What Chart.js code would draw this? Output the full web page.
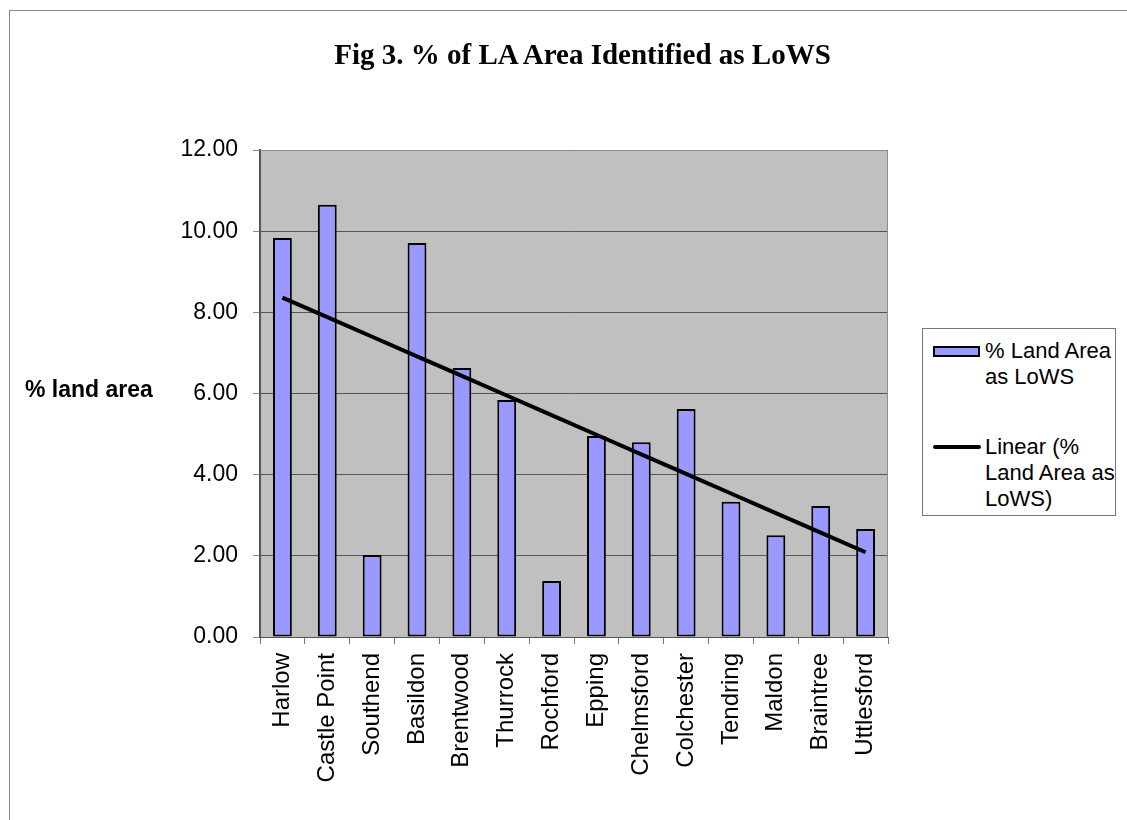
<!DOCTYPE html>
<html>
<head>
<meta charset="utf-8">
<script src="https://cdn.jsdelivr.net/npm/chart.js@4"></script>
<style>
  html, body { margin: 0; padding: 0; background: #fff; }
  body { width: 1127px; height: 820px; position: relative; overflow: hidden; font-family: "Liberation Sans", Arial, sans-serif; }
  #frame { position: absolute; left: 9px; top: 10px; width: 1300px; height: 1000px; border: 1px solid #888; }
  #chart { position: absolute; left: 0; top: 0; }
  #title { position: absolute; left: 0; width: 1165px; top: 38px; text-align: center; font-family: "Liberation Serif", "Times New Roman", serif; font-weight: bold; font-size: 29px; }
  #ylabel { position: absolute; left: 25px; top: 376px; font-weight: bold; font-size: 23px; }
  #legend { position: absolute; left: 922px; top: 328px; width: 194px; height: 188px; border: 1px solid #777; background: #fff; box-sizing: border-box; }
  .item { position: absolute; left: 10px; font-size: 22px; line-height: 26px; }
  .item .txt { position: absolute; left: 52px; top: 0; white-space: nowrap; }
  .swatch { position: absolute; left: 0; }
</style>
</head>
<body>
<div id="frame"></div>
<canvas id="chart" width="1127" height="820"></canvas>
<div id="title">Fig 3. % of LA Area Identified as LoWS</div>
<div id="ylabel">% land area</div>
<div id="legend"></div>
<script>
// valores
const districts = ['Harlow', 'Castle Point', 'Southend', 'Basildon', 'Brentwood', 'Thurrock', 'Rochford',
                   'Epping', 'Chelmsford', 'Colchester', 'Tendring', 'Maldon', 'Braintree', 'Uttlesford'];
const landArea = [9.83, 10.65, 2.02, 9.71, 6.63, 5.84, 1.38, 4.95, 4.80, 5.62, 3.33, 2.51, 3.23, 2.66];
const yTicks = [0, 2, 4, 6, 8, 10, 12];
const seriesNames = ['% Land Area as LoWS', 'Linear (% Land Area as LoWS)'];
const legendLines = [['% Land Area', 'as LoWS'], ['Linear (%', 'Land Area as', 'LoWS)']];

// linha de tendência (mínimos quadrados sobre os dados)
function linearTrend(values) {
    const n = values.length;
    const mx = (n - 1) / 2;
    const my = values.reduce((a, b) => a + b, 0) / n;
    let sxy = 0, sxx = 0;
    values.forEach((v, i) => { sxy += (i - mx) * (v - my); sxx += (i - mx) * (i - mx); });
    const slope = sxy / sxx;
    return values.map((v, i) => my + slope * (i - mx));
}

const plotBg = {
    id: 'plotBg',
    beforeDraw(chart) {
        const a = chart.chartArea, c = chart.ctx;
        c.save();
        c.fillStyle = '#c0c0c0';
        c.fillRect(a.left, a.top, a.right - a.left, a.bottom - a.top);
        c.restore();
    },
    afterDraw(chart) {
        const a = chart.chartArea, c = chart.ctx;
        c.save();
        c.strokeStyle = '#8c8c8c';
        c.lineWidth = 1;
        c.beginPath();
        c.moveTo(a.left, a.top + 0.5);
        c.lineTo(a.right - 0.5, a.top + 0.5);
        c.lineTo(a.right - 0.5, a.bottom);
        c.stroke();
        c.restore();
    }
};

const tickFont = { family: '"Liberation Sans", Arial, sans-serif', size: 23 };

new Chart(document.getElementById('chart'), {
    type: 'bar',
    data: {
        labels: districts,
        datasets: [
            {
                type: 'line',
                label: seriesNames[1],
                data: linearTrend(landArea),
                borderColor: '#000',
                borderWidth: 4,
                pointRadius: 0,
                fill: false,
                tension: 0,
                order: 0
            },
            {
                type: 'bar',
                label: seriesNames[0],
                data: landArea,
                backgroundColor: '#9999ff',
                borderColor: '#000',
                borderWidth: 2,
                borderSkipped: false,
                categoryPercentage: 1,
                barPercentage: 0.42,
                order: 1
            }
        ]
    },
    options: {
        responsive: false,
        animation: false,
        layout: { padding: { left: 180, top: 150, right: 239, bottom: 0 } },
        plugins: { legend: { display: false }, tooltip: { enabled: false } },
        scales: {
            x: {
                afterFit: s => { s.height = 183; },
                grid: { drawOnChartArea: false, tickLength: 7, color: '#777', offset: true },
                border: { color: '#555', width: 1 },
                ticks: { autoSkip: false, minRotation: 90, maxRotation: 90, padding: 9, color: '#000',
                         font: { family: tickFont.family, size: 24 } }
            },
            y: {
                min: 0,
                max: 12,
                afterFit: s => { s.width = 80; },
                afterBuildTicks: s => { s.ticks = yTicks.map(v => ({ value: v })); },
                grid: { color: '#555', tickColor: '#888', tickLength: 7 },
                border: { color: '#555', width: 2 },
                ticks: { padding: 15, color: '#000', font: tickFont, callback: v => v.toFixed(2) }
            }
        }
    },
    plugins: [plotBg]
});

// legenda
const legend = document.getElementById('legend');
const tops = [9, 105];
legendLines.forEach((lines, i) => {
    const item = document.createElement('div');
    item.className = 'item';
    item.style.top = tops[i] + 'px';
    const sw = document.createElement('div');
    sw.className = 'swatch';
    if (i === 0) {
        Object.assign(sw.style, { top: '8px', width: '47px', height: '11px', background: '#9999ff', border: '2px solid #000', boxSizing: 'border-box' });
    } else {
        Object.assign(sw.style, { top: '11px', width: '48px', height: '4px', background: '#000', borderRadius: '2px' });
    }
    const t = document.createElement('div');
    t.className = 'txt';
    t.innerHTML = lines.join('<br>');
    item.appendChild(sw);
    item.appendChild(t);
    legend.appendChild(item);
});
</script>
</body>
</html>
